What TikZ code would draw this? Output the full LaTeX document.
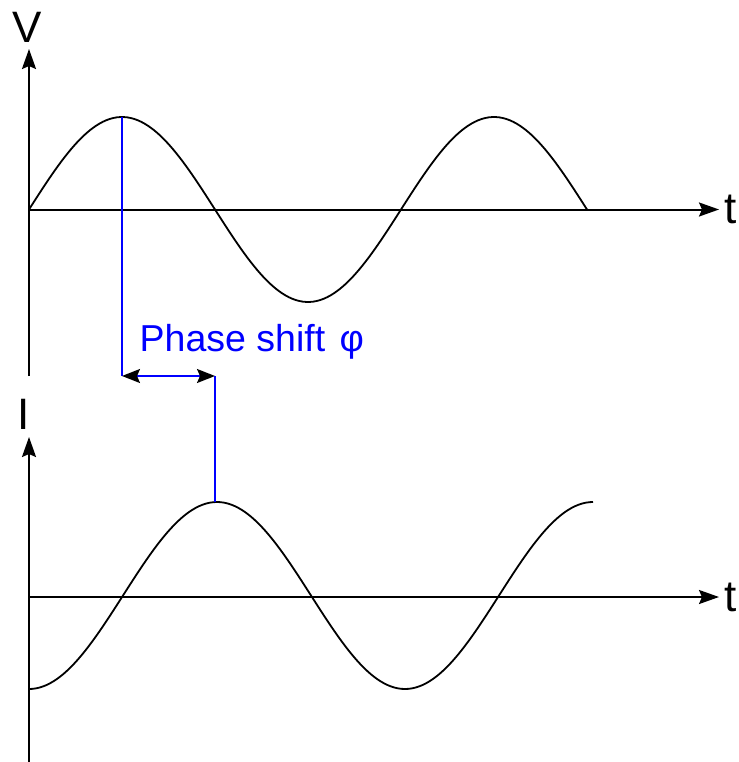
\documentclass[tikz,border=0pt]{standalone}
\usepackage{fontspec}
\setmainfont{Liberation Sans}
\usetikzlibrary{arrows.meta}
\tikzset{dimhead/.tip={Stealth[black,length=18pt,width=14pt,inset=3pt]}}
\begin{document}
\begin{tikzpicture}[x=1pt,y=-1pt,
  axis/.style={line width=2pt, -{Stealth[length=20pt,width=14pt,inset=3pt]}},
  wave/.style={line width=1.8pt},
  phaseline/.style={blue, line width=1.8pt},
  lbl/.style={inner sep=0pt, font=\fontsize{44}{48}\selectfont},
  ]
\useasboundingbox (0,0) rectangle (738,762);
% top axes
\coordinate (Vbot) at (29,376);
\coordinate (Vtop) at (29,49);
\coordinate (Vo) at (29,209.5);
\coordinate (Vend) at (719,209.5);
\draw[axis] (Vbot) -- (Vtop);
\draw[axis] (Vo) -- (Vend);
\node[lbl] (V) at (27,27) {V};
\node[lbl] (tV) at (731,209) {t};
% bottom axes
\coordinate (Ibot) at (29,762);
\coordinate (Itop) at (29,437);
\coordinate (Io) at (29,597);
\coordinate (Iend) at (719,597);
\draw[axis] (Ibot) -- (Itop);
\draw[axis] (Io) -- (Iend);
\node[lbl] (I) at (24,414) {I};
\node[lbl] (tI) at (731,597) {t};
% waves
\draw[wave] plot[domain=0:558,samples=160,smooth] ({29+\x},{209.5-92.5*sin(\x*0.967742)});
\draw[wave] plot[domain=0:564,samples=160,smooth] ({29+\x},{595.5+93.5*cos(\x*0.957447)});
% phase shift
\coordinate (P1) at (122,117);
\coordinate (A1) at (122,376);
\coordinate (A2) at (215,376);
\coordinate (P2) at (215,502);
\draw[phaseline] (P1) -- (A1);
\draw[phaseline, dimhead-dimhead] (A1) -- (A2);
\draw[phaseline] (A2) -- (P2);
\node[blue, anchor=base west, inner sep=0pt, font=\fontsize{37.5}{40}\selectfont] (ps) at (139.5,351) {Phase shift\hspace{4pt} φ};
\end{tikzpicture}
\end{document}
